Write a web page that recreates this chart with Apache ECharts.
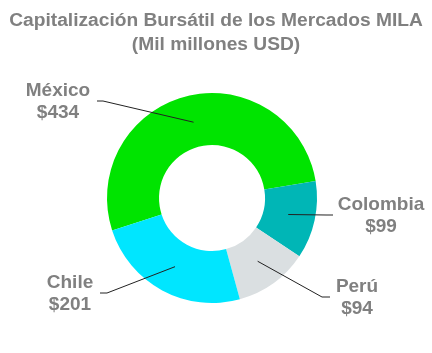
<!DOCTYPE html>
<html>
<head>
<meta charset="utf-8">
<script src="https://cdn.jsdelivr.net/npm/echarts@6/dist/echarts.min.js"></script>
<style>
html,body{margin:0;padding:0;background:#fff;}
#chart{width:432px;height:353px;}
</style>
</head>
<body>
<div id="chart"></div>
<script>
var titleLines = ['Capitalización Bursátil de los Mercados MILA', '(Mil millones USD)'];
var categories = ['México', 'Colombia', 'Perú', 'Chile'];
var values = [434, 99, 94, 201];
var colors = ['#00E400', '#00B6B6', '#DADFE1', '#00E6FF'];

// label placement (pixels): centre of label, leader-line bend and end
var labelPos = [[58, 102], [381, 216], [357, 298], [70, 294]];
var lineBend = [[103, 101], [326, 215], [322, 297], [107, 293]];
var lineEnd = [[97, 101], [333, 215], [330, 297], [100, 293]];

var data = categories.map(function (c, i) {
  return { name: c, value: values[i], itemStyle: { color: colors[i] } };
});
var dataHidden = categories.map(function (c, i) {
  return { name: c, value: values[i] };
});

var chart = echarts.init(document.getElementById('chart'), null, { renderer: 'canvas' });
var FONT = '"Liberation Sans", Arial, sans-serif';
chart.setOption({
  backgroundColor: '#ffffff',
  animation: false,
  title: {
    text: titleLines.join('\n'),
    left: 'center',
    top: 9,
    padding: 0,
    textStyle: { fontFamily: FONT, fontSize: 19.2, fontWeight: 'bold', color: '#808080', lineHeight: 24 }
  },
  series: [
    {
      type: 'pie',
      center: [212, 198],
      radius: [53, 105],
      startAngle: 198,
      clockwise: true,
      silent: true,
      label: { show: false },
      labelLine: { show: false },
      data: data,
      z: 1
    },
    {
      type: 'pie',
      center: [212, 198],
      radius: [0, 78],
      startAngle: 198,
      clockwise: true,
      silent: true,
      z: 5,
      itemStyle: { color: 'rgba(0,0,0,0)' },
      label: {
        show: true,
        formatter: function (p) { return p.name + '\n$' + p.value; },
        fontFamily: FONT,
        fontSize: 19,
        fontWeight: 'bold',
        color: '#808080',
        lineHeight: 22,
        align: 'center'
      },
      labelLine: { show: true, length: 10, length2: 10, lineStyle: { color: '#222', width: 1 } },
      labelLayout: function (params) {
        var i = params.dataIndex;
        var p0 = params.labelLinePoints ? params.labelLinePoints[0].slice() : [212, 198];
        return {
          x: labelPos[i][0],
          y: labelPos[i][1],
          align: 'center',
          verticalAlign: 'middle',
          labelLinePoints: [p0, lineBend[i], lineEnd[i]]
        };
      },
      data: dataHidden
    }
  ]
});
</script>
</body>
</html>
